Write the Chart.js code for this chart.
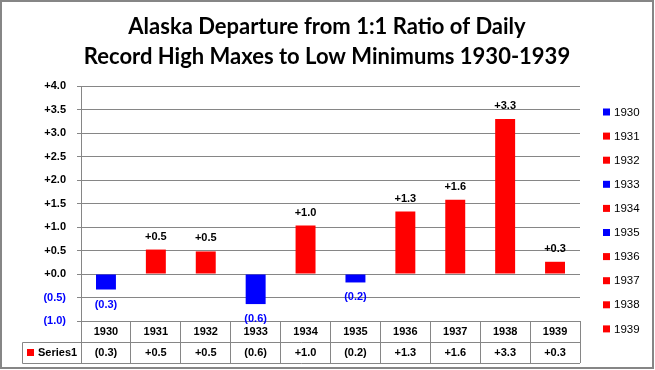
<!DOCTYPE html>
<html>
<head>
<meta charset="utf-8">
<script src="https://cdn.jsdelivr.net/npm/chart.js@4/dist/chart.umd.min.js"></script>
<style>
  html, body { margin: 0; padding: 0; background: #fff; }
  #wrap { width: 655px; height: 370px; position: relative; }
</style>
</head>
<body>
<div id="wrap"><canvas id="chart" width="655" height="370"></canvas></div>
<script>
const titleLines = ['Alaska Departure from 1:1 Ratio of Daily', 'Record High Maxes to Low Minimums 1930-1939']
const years = ['1930', '1931', '1932', '1933', '1934', '1935', '1936', '1937', '1938', '1939']
const departures = [-0.33, 0.52, 0.48, -0.64, 1.03, -0.18, 1.33, 1.58, 3.30, 0.26]
const seriesName = 'Series1'

const RED = '#ff0000'
const BLUE = '#0000ff'
const GRID = '#868686'
const tickFont = { family: 'Liberation Sans', size: 11, weight: 'bold' }
const BOLD = 'bold 11px "Liberation Sans"'

const fmt = v => v < 0 ? '(' + (-v).toFixed(1) + ')' : '+' + v.toFixed(1)
const barColor = v => v < 0 ? BLUE : RED

// title, data labels, data table, legend and frame
const extras = {
  id: 'extras',
  afterDatasetsDraw(chart) {
    const { ctx } = chart
    const meta = chart.getDatasetMeta(0)
    ctx.save()
    ctx.font = BOLD
    ctx.textAlign = 'center'
    ctx.textBaseline = 'middle'
    meta.data.forEach((bar, i) => {
      const v = departures[i]
      ctx.fillStyle = v < 0 ? BLUE : '#000'
      const y = v < 0 ? bar.y + 15 : bar.y - 13
      ctx.fillText(fmt(v), bar.x, y)
    })
    ctx.restore()
  },
  afterDraw(chart) {
    const { ctx, chartArea } = chart
    const x = chart.scales.x
    ctx.save()

    // title
    ctx.fillStyle = '#000'
    ctx.textAlign = 'center'
    ctx.textBaseline = 'alphabetic'
    ctx.font = 'bold 22px Lato'
    ctx.fillText(titleLines[0], 327, 34)
    ctx.fillText(titleLines[1], 327, 64)

    // data table series row
    const rowTop = 342.5
    const rowBottom = 363.5
    ctx.strokeStyle = GRID
    ctx.lineWidth = 1
    ctx.beginPath()
    ctx.moveTo(22.5, rowTop); ctx.lineTo(chartArea.right, rowTop)
    ctx.moveTo(22.5, rowBottom); ctx.lineTo(chartArea.right, rowBottom)
    ctx.moveTo(22.5, rowTop); ctx.lineTo(22.5, rowBottom)
    ctx.stroke()

    ctx.fillStyle = RED
    ctx.fillRect(27, 349, 7, 7)
    ctx.fillStyle = '#000'
    ctx.font = BOLD
    ctx.textAlign = 'left'
    ctx.textBaseline = 'middle'
    ctx.fillText(seriesName, 38, 353)
    ctx.textAlign = 'center'
    departures.forEach((v, i) => {
      ctx.fillText(fmt(v), x.getPixelForValue(i), 353)
    })

    // legend
    ctx.font = '11.5px "Liberation Sans"'
    ctx.textAlign = 'left'
    years.forEach((yr, i) => {
      const cy = 112 + i * 24.1
      ctx.fillStyle = barColor(departures[i])
      ctx.fillRect(603, cy - 3.5, 7, 7)
      ctx.fillStyle = '#000'
      ctx.fillText(yr, 614, cy + 0.5)
    })

    // outer frame
    ctx.strokeStyle = GRID
    ctx.lineWidth = 2
    ctx.strokeRect(1, 1, 652, 367)
    ctx.restore()
  }
}

new Chart(document.getElementById('chart'), {
  type: 'bar',
  data: {
    labels: years,
    datasets: [{
      label: seriesName,
      data: departures,
      backgroundColor: departures.map(barColor),
      categoryPercentage: 1,
      barPercentage: 0.4
    }]
  },
  options: {
    responsive: false,
    animation: false,
    layout: { padding: { top: 86, right: 75, left: 0, bottom: 0 } },
    plugins: {
      legend: { display: false },
      title: { display: false },
      tooltip: { enabled: false }
    },
    scales: {
      x: {
        grid: {
          offset: true,
          drawOnChartArea: false,
          tickLength: 42,
          color: GRID
        },
        border: { color: GRID },
        ticks: {
          color: '#000',
          font: tickFont,
          padding: -38,
          maxRotation: 0
        },
        afterFit: s => { s.height = 49 }
      },
      y: {
        min: -1,
        max: 4,
        grid: { color: GRID, tickLength: 4 },
        border: { color: GRID },
        ticks: {
          stepSize: 0.5,
          padding: 11,
          font: tickFont,
          color: c => c.tick.value < 0 ? BLUE : '#000',
          callback: v => fmt(v)
        },
        afterFit: s => { s.width = 81 }
      }
    }
  },
  plugins: [extras]
})
</script>
</body>
</html>
